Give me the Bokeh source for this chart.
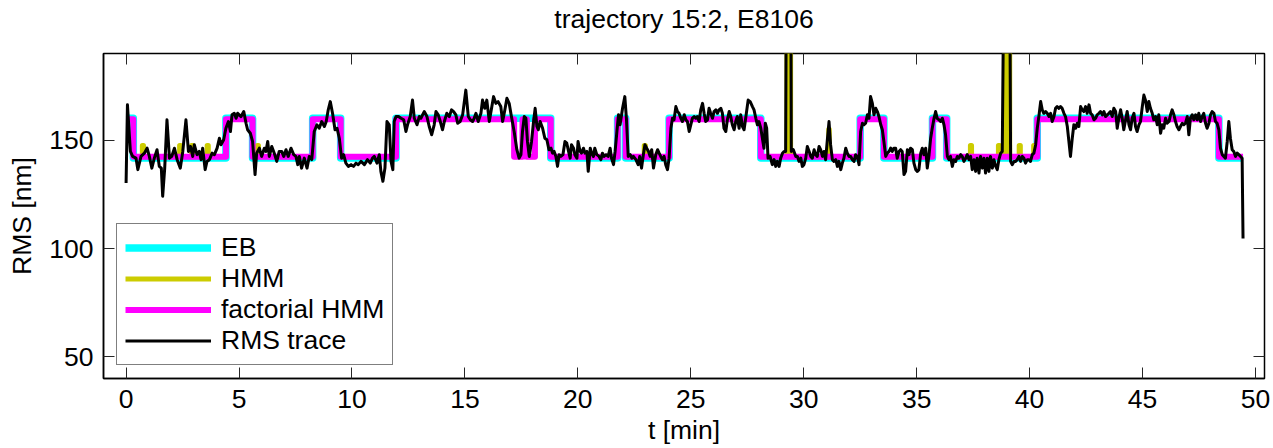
from bokeh.plotting import figure
from bokeh.models import LinearAxis, FixedTicker
from bokeh.embed import file_html
from bokeh.resources import INLINE

FONT = "Liberation Sans"
FS = "26.5px"

# ---------------- data ----------------
title_text = "trajectory 15:2, E8106"
x_label = "t [min]"
y_label = "RMS [nm]"
x_ticks = [0, 5, 10, 15, 20, 25, 30, 35, 40, 45, 50]
y_ticks = [50, 100, 150]

# RMS trace (t [min], RMS [nm])
trace_t = [0.00, 0.06, 0.19, 0.29, 0.44, 0.52, 0.66, 0.81, 0.93, 1.03, 1.14, 1.25, 1.37, 1.47, 1.56, 1.62, 1.71,
           1.81, 1.92, 2.02, 2.14, 2.26, 2.40, 2.51, 2.65, 2.76, 2.85, 2.95, 3.02, 3.14, 3.24, 3.32, 3.39, 3.50,
           3.58, 3.69, 3.81, 3.91, 4.03, 4.13, 4.20, 4.32, 4.42, 4.53, 4.62, 4.69, 4.79, 4.87, 4.94, 5.09, 5.21,
           5.31, 5.38, 5.50, 5.60, 5.71, 5.78, 5.90, 6.00, 6.12, 6.19, 6.27, 6.34, 6.45, 6.56, 6.67, 6.78, 6.89,
           6.98, 7.08, 7.18, 7.30, 7.42, 7.52, 7.60, 7.67, 7.77, 7.89, 8.01, 8.11, 8.22, 8.33, 8.45, 8.55, 8.66,
           8.78, 8.86, 8.95, 9.04, 9.14, 9.25, 9.34, 9.44, 9.54, 9.63, 9.73, 9.84, 9.96, 10.07, 10.18, 10.28,
           10.40, 10.55, 10.69, 10.81, 10.91, 10.99, 11.11, 11.21, 11.28, 11.37, 11.46, 11.55, 11.65, 11.73,
           11.81, 11.87, 11.95, 12.06, 12.17, 12.29, 12.39, 12.46, 12.58, 12.68, 12.76, 12.88, 12.98,
           13.05, 13.20, 13.32, 13.42, 13.53, 13.64, 13.72, 13.82, 13.91, 14.01, 14.09, 14.20, 14.31, 14.41,
           14.50, 14.60, 14.68, 14.79, 14.90, 15.04, 15.15, 15.24, 15.34, 15.41, 15.49, 15.59, 15.71, 15.78,
           15.88, 15.97, 16.08, 16.18, 16.27, 16.37, 16.47, 16.59, 16.67, 16.77, 16.86, 16.96, 17.06, 17.18,
           17.30, 17.40, 17.48, 17.55, 17.63, 17.70, 17.77, 17.85, 17.95, 18.04, 18.11, 18.19, 18.25, 18.33,
           18.44, 18.54, 18.63, 18.72, 18.81, 18.88, 18.95, 19.03, 19.10, 19.17, 19.25, 19.34, 19.43, 19.51,
           19.59, 19.66, 19.72, 19.81, 19.87, 19.96, 20.01, 20.10, 20.16, 20.25, 20.31, 20.40, 20.46, 20.55,
           20.61, 20.69, 20.75, 20.84, 20.94, 21.02, 21.09, 21.16, 21.25, 21.34, 21.43, 21.49, 21.58, 21.65,
           21.73, 21.80, 21.87, 21.98, 22.08, 22.15, 22.23, 22.32, 22.39, 22.46, 22.57, 22.67, 22.74, 22.82,
           22.91, 22.97, 23.05, 23.13, 23.20, 23.27, 23.35, 23.45, 23.53, 23.60, 23.67, 23.75, 23.82, 23.89,
           23.97, 24.04, 24.12, 24.19, 24.26, 24.34, 24.41, 24.48, 24.56, 24.63, 24.71, 24.78, 24.85, 24.93,
           25.00, 25.07, 25.15, 25.22, 25.29, 25.37, 25.44, 25.52, 25.59, 25.66, 25.74, 25.81, 25.88, 25.96,
           26.03, 26.11, 26.18, 26.25, 26.33, 26.40, 26.47, 26.55, 26.62, 26.70, 26.77, 26.84, 26.92, 26.99,
           27.06, 27.14, 27.21, 27.29, 27.36, 27.43, 27.54, 27.63, 27.73, 27.80, 27.88, 27.95, 28.02, 28.10,
           28.17, 28.24, 28.30, 28.36, 28.42, 28.51, 28.61, 28.69, 28.76, 28.83, 28.91, 28.98, 29.06, 29.13,
           29.20, 29.24, 29.42, 29.45, 29.54, 29.65, 29.72, 29.79, 29.87, 29.94, 30.01, 30.09, 30.16, 30.24,
           30.31, 30.38, 30.46, 30.53, 30.60, 30.68, 30.75, 30.83, 30.90, 30.97, 31.04, 31.12, 31.19, 31.27,
           31.34, 31.42, 31.49, 31.56, 31.64, 31.71, 31.78, 31.86, 31.93, 32.01, 32.08, 32.15, 32.23, 32.30,
           32.37, 32.45, 32.52, 32.60, 32.67, 32.74, 32.82, 32.89, 32.96, 33.04, 33.11, 33.19, 33.26, 33.33,
           33.41, 33.48, 33.55, 33.63, 33.70, 33.78, 33.85, 33.92, 33.99, 34.07, 34.14, 34.22, 34.29, 34.36,
           34.44, 34.51, 34.59, 34.66, 34.73, 34.81, 34.88, 34.96, 35.03, 35.10, 35.18, 35.25, 35.32, 35.40,
           35.47, 35.55, 35.62, 35.69, 35.77, 35.84, 35.91, 35.99, 36.06, 36.14, 36.21, 36.28, 36.36, 36.43,
           36.50, 36.58, 36.65, 36.73, 36.80, 36.87, 36.95, 37.02, 37.09, 37.17, 37.24, 37.32, 37.39, 37.46,
           37.54, 37.61, 37.68, 37.76, 37.83, 37.91, 37.98, 38.05, 38.13, 38.20, 38.27, 38.35, 38.42, 38.50,
           38.57, 38.64, 38.72, 38.79, 38.88, 39.11, 39.16, 39.23, 39.31, 39.38, 39.45, 39.53, 39.60, 39.68,
           39.75, 39.82, 39.90, 39.97, 40.04, 40.12, 40.19, 40.27, 40.34, 40.42, 40.49, 40.56, 40.63, 40.71,
           40.78, 40.86, 40.93, 41.00, 41.08, 41.15, 41.22, 41.30, 41.37, 41.44, 41.52, 41.59, 41.67, 41.74,
           41.81, 41.89, 41.96, 42.04, 42.11, 42.18, 42.26, 42.33, 42.40, 42.48, 42.55, 42.63, 42.70, 42.77,
           42.85, 42.92, 42.99, 43.07, 43.14, 43.22, 43.29, 43.36, 43.44, 43.51, 43.58, 43.66, 43.73, 43.81,
           43.88, 43.95, 44.03, 44.10, 44.17, 44.25, 44.32, 44.40, 44.47, 44.54, 44.62, 44.69, 44.76, 44.84,
           44.91, 44.99, 45.06, 45.13, 45.21, 45.28, 45.35, 45.43, 45.50, 45.58, 45.65, 45.72, 45.80, 45.87,
           45.94, 46.02, 46.09, 46.17, 46.24, 46.31, 46.39, 46.46, 46.53, 46.61, 46.68, 46.76, 46.83, 46.90,
           46.98, 47.05, 47.12, 47.20, 47.27, 47.35, 47.42, 47.49, 47.57, 47.64, 47.71, 47.79, 47.86, 47.94,
           48.01, 48.08, 48.16, 48.23, 48.30, 48.38, 48.45, 48.53, 48.60, 48.67, 48.75, 48.82, 48.89, 48.97,
           49.04, 49.12, 49.19, 49.26, 49.34, 49.41, 49.45]
trace_v = [130.2, 166.3, 144.8, 142.5, 141.7, 136.4, 142.5, 144.0, 146.3, 142.5, 137.1, 141.7, 145.6, 137.9, 137.1, 124.1, 137.1,
           159.4, 141.7, 142.5, 146.3, 141.0, 137.1, 144.8, 159.4, 144.8, 147.1, 142.5, 147.9, 143.3, 144.8, 141.0, 146.3, 136.4,
           140.2, 141.0, 144.0, 143.3, 146.3, 150.9, 147.9, 150.2, 155.5, 158.6, 154.0, 161.7, 162.4, 160.1, 162.4, 160.9, 163.2,
           157.8, 154.8, 153.2, 149.4, 134.1, 144.0, 146.3, 142.5, 146.3, 144.8, 149.4, 142.5, 147.1, 144.0, 140.2, 144.8, 144.8,
           142.5, 145.6, 142.5, 146.3, 143.3, 142.5, 138.7, 142.5, 137.1, 141.7, 137.1, 142.5, 141.0, 154.0, 157.1, 155.5, 158.6,
           156.3, 158.6, 164.0, 167.8, 162.4, 154.8, 155.5, 150.9, 141.7, 143.3, 139.4, 137.9, 138.7, 137.9, 139.4, 138.7,
           140.2, 138.7, 141.0, 139.4, 141.7, 142.5, 139.4, 143.3, 135.6, 131.0, 137.1, 158.6, 157.1, 140.2,
           136.4, 158.6, 160.9, 160.9, 160.1, 159.4, 154.0, 157.1, 160.9, 168.5, 160.1, 157.1, 160.9,
           160.1, 163.2, 160.9, 156.3, 152.5, 157.1, 163.2, 161.7, 158.6, 154.8, 158.6, 162.4, 160.9, 164.0,
           163.2, 161.7, 157.8, 158.6, 161.7, 173.1, 160.9, 159.4, 158.6, 160.1, 162.4, 158.6, 162.4, 168.5,
           164.7, 168.5, 158.6, 164.7, 170.1, 167.0, 167.8, 165.5, 158.6, 164.0, 169.3, 167.0, 160.9, 154.0,
           145.6, 141.7, 143.3, 154.0, 160.9, 160.1, 149.4, 142.5, 149.4, 158.6, 164.7, 156.3, 154.8, 158.6,
           155.5, 150.9, 150.2, 145.6, 146.3, 144.0, 144.8, 142.5, 137.9, 143.3, 142.5, 143.3, 149.4, 148.6,
           144.8, 141.7, 147.9, 146.3, 143.3, 141.7, 149.4, 144.8, 144.0, 146.3, 144.0, 144.8, 135.6, 146.3,
           144.0, 142.5, 146.3, 143.3, 142.5, 141.0, 144.0, 142.5, 143.3, 142.5, 146.3, 141.7, 138.7, 144.8,
           154.0, 161.7, 157.1, 164.7, 170.1, 160.1, 142.5, 143.3, 141.7, 142.5, 141.0, 138.7, 142.5, 137.1,
           144.0, 147.9, 146.3, 144.8, 142.5, 145.6, 137.1, 143.3, 145.6, 144.0, 142.5, 141.0, 142.5, 138.7,
           136.4, 141.7, 155.5, 160.1, 159.4, 165.5, 163.2, 162.4, 160.1, 158.6, 161.7, 159.4, 158.6, 154.0,
           157.1, 160.1, 160.9, 160.1, 160.9, 158.6, 164.0, 167.0, 162.4, 158.6, 159.4, 164.7, 162.4, 160.1,
           163.2, 164.0, 162.4, 164.0, 164.7, 162.4, 155.5, 154.0, 159.4, 163.2, 160.9, 157.1, 154.8, 158.6,
           160.9, 155.5, 161.7, 156.3, 154.8, 160.1, 168.5, 167.8, 165.5, 164.0, 160.1, 157.1, 158.6, 155.5,
           150.9, 146.3, 157.8, 155.5, 141.7, 142.5, 138.7, 141.0, 137.9, 140.2, 137.9, 141.7, 144.0, 144.8,
           144.8, 250.0, 250.0, 144.8, 145.6, 142.5, 142.5, 140.2, 141.7, 137.9, 138.7, 141.7, 147.1, 144.8,
           142.5, 141.7, 145.6, 143.3, 142.5, 147.1, 145.6, 142.5, 144.8, 141.0, 149.4, 158.6, 147.9, 141.0,
           140.2, 141.0, 137.9, 140.2, 136.4, 139.4, 141.7, 146.3, 144.0, 142.5, 142.5, 141.0, 140.2, 143.3,
           142.5, 138.7, 154.0, 157.8, 157.1, 157.8, 161.7, 160.1, 170.1, 167.0, 161.7, 164.7, 163.2, 160.9,
           157.1, 154.8, 149.4, 142.5, 144.0, 144.8, 146.3, 144.8, 146.3, 146.3, 141.7, 144.8, 145.6, 144.8,
           134.1, 135.6, 145.6, 143.3, 146.3, 145.6, 139.4, 136.4, 135.6, 136.4, 144.0, 146.3, 143.3, 146.3,
           137.1, 143.3, 150.9, 155.5, 160.1, 163.2, 160.1, 159.4, 158.6, 160.1, 157.1, 152.5, 142.5, 141.0,
           142.5, 137.9, 141.0, 140.2, 142.5, 141.7, 143.3, 142.5, 140.2, 141.7, 143.3, 141.0, 142.5, 136.4,
           141.0, 135.6, 141.7, 134.8, 142.5, 137.1, 141.7, 134.8, 141.7, 135.6, 142.5, 137.1, 141.0, 137.9,
           136.4, 141.0, 144.0, 144.8, 250.0, 250.0, 140.2, 138.7, 140.2, 140.2, 141.0, 142.5, 140.2, 142.5,
           141.7, 139.4, 141.0, 141.0, 140.2, 143.3, 144.0, 147.9, 155.5, 161.7, 167.8, 164.0, 162.4, 163.2,
           162.4, 160.9, 162.4, 158.6, 160.9, 164.7, 165.5, 164.7, 165.5, 164.7, 162.4, 160.9, 156.3, 149.4,
           142.5, 150.9, 157.1, 155.5, 157.8, 156.3, 165.5, 164.0, 163.2, 165.5, 162.4, 166.3, 162.4, 161.7,
           159.4, 160.1, 161.7, 162.4, 163.2, 161.7, 163.2, 160.9, 161.7, 162.4, 163.2, 160.9, 164.7, 163.2,
           155.5, 160.1, 164.0, 160.1, 154.8, 159.4, 163.2, 157.1, 154.8, 160.1, 162.4, 156.3, 154.0, 157.1,
           158.6, 165.5, 170.8, 168.5, 163.2, 167.8, 164.7, 162.4, 159.4, 160.9, 157.1, 161.7, 153.2, 157.1,
           155.5, 160.1, 157.8, 158.6, 161.7, 164.0, 161.7, 158.6, 156.3, 154.8, 156.3, 157.8, 157.1, 157.8,
           160.9, 152.5, 160.1, 161.7, 159.4, 161.7, 159.4, 162.4, 158.6, 160.9, 162.4, 157.8, 155.5, 157.8,
           161.7, 163.2, 162.4, 158.6, 157.8, 154.8, 146.3, 143.3, 142.5, 141.7, 149.4, 158.6, 150.9, 145.6,
           144.8, 142.5, 144.0, 143.3, 142.5, 141.7, 104.6]

# state sequences: start time of each segment and its level [nm]
eb_t = [0.0, 0.32, 4.42, 5.60, 8.26, 9.50, 11.95, 18.80, 21.76, 22.12, 24.04, 28.10, 32.50, 33.55, 35.70, 36.33, 40.34, 48.38]
eb_v = [160.1, 141.8, 160.1, 141.8, 160.1, 141.8, 160.1, 141.8, 160.1, 141.8, 160.1, 141.8, 160.1, 141.8, 160.1, 141.8, 160.1, 141.8]

fhmm_t = [0.0, 0.32, 4.42, 5.60, 8.26, 9.50, 11.95, 17.18, 17.55, 17.74, 18.10, 18.80, 21.76, 22.12, 24.04, 28.10,
          32.50, 33.55, 35.70, 36.33, 40.34, 48.38]
fhmm_v = [159.6, 142.3, 159.6, 142.3, 159.6, 142.3, 159.6, 142.3, 159.6, 142.3, 159.6, 142.3, 159.6, 142.3, 159.6, 142.3,
          159.6, 142.3, 159.6, 142.3, 159.6, 142.3]

hmm_t = [0.0, 0.32, 0.72, 0.77, 2.37, 2.42, 2.90, 2.95, 3.59, 3.64, 4.42, 5.60, 5.81, 5.86, 8.26, 9.50, 11.95,
         17.18, 17.55, 17.74, 18.10, 18.80, 21.76, 22.12, 22.94, 22.99, 24.04, 28.10, 29.26, 29.42, 31.11, 31.13,
         32.50, 33.55, 35.70, 36.33, 37.38, 37.43, 38.62, 38.67, 38.90, 39.12, 39.54, 39.59, 40.18, 40.22, 40.34, 48.38]
hmm_v = [159.6, 142.3, 147.5, 142.3, 147.5, 142.3, 147.5, 142.3, 147.5, 142.3, 159.6, 142.3, 147.5, 142.3, 159.6, 142.3, 159.6,
         142.3, 159.6, 142.3, 159.6, 142.3, 159.6, 142.3, 147.5, 142.3, 159.6, 142.3, 260.0, 142.3, 155.0, 142.3,
         159.6, 142.3, 159.6, 142.3, 147.5, 142.3, 147.5, 142.3, 260.0, 142.3, 147.5, 142.3, 147.5, 142.3, 159.6, 142.3]

t_end = trace_t[-1]


def steps(times, levels, end):
    xs, ys = [], []
    for i, lv in enumerate(levels):
        t1 = times[i + 1] if i + 1 < len(times) else end
        xs += [times[i], t1]
        ys += [lv, lv]
    return xs, ys


# ---------------- figure ----------------
p = figure(width=1273, height=448, x_range=(-1, 50.4), y_range=(40, 190), title=None,
           output_backend="svg", toolbar_location=None,
           min_border_left=103, min_border_right=9, min_border_top=52, min_border_bottom=70)

ex, ey = steps(eb_t, eb_v, t_end)
hx, hy = steps(hmm_t, hmm_v, t_end)
fx, fy = steps(fhmm_t, fhmm_v, t_end)

p.line(ex, ey, color="#00ffff", line_width=7.5, line_join="round", legend_label="EB")
p.line(hx, hy, color="#cccc00", line_width=5, line_join="round", legend_label="HMM")
p.line(fx, fy, color="#ff00ff", line_width=6, line_join="round", legend_label="factorial HMM")
p.line(trace_t, trace_v, color="black", line_width=3, line_join="round", legend_label="RMS trace")

p.xgrid.visible = False
p.ygrid.visible = False
p.outline_line_color = "black"
p.outline_line_width = 1.5
p.background_fill_color = "white"
p.border_fill_color = "white"

for ax in (p.xaxis[0], p.yaxis[0]):
    ax.major_tick_in = 11
    ax.major_tick_out = 0
    ax.minor_tick_line_color = None
    ax.major_tick_line_color = "#262626"
    ax.axis_line_color = "black"
    ax.axis_line_width = 1.5
    ax.major_label_text_font = FONT
    ax.major_label_text_font_size = FS
    ax.major_label_text_color = "black"
    ax.axis_label_text_font = FONT
    ax.axis_label_text_font_size = FS
    ax.axis_label_text_font_style = "normal"
    ax.axis_label_text_color = "black"

p.xaxis[0].ticker = FixedTicker(ticks=x_ticks)
p.yaxis[0].ticker = FixedTicker(ticks=y_ticks)
p.xaxis[0].axis_label = x_label
p.yaxis[0].axis_label = y_label
p.xaxis[0].major_label_standoff = 11
p.xaxis[0].axis_label_standoff = 4
p.yaxis[0].major_label_standoff = 10
p.yaxis[0].axis_label_standoff = 9

# mirrored ticks on top (carrying the chart title as its label) and on the right
top = LinearAxis(ticker=FixedTicker(ticks=x_ticks), major_label_text_font_size="1px",
                 major_label_text_color=None,
                 major_tick_in=11, major_tick_out=0, minor_tick_line_color=None,
                 major_tick_line_color="#262626", axis_line_color=None, major_label_standoff=0,
                 axis_label=title_text, axis_label_standoff=20, axis_label_text_font=FONT,
                 axis_label_text_font_size=FS, axis_label_text_font_style="normal",
                 axis_label_text_color="black")
right = LinearAxis(ticker=FixedTicker(ticks=y_ticks), major_label_text_font_size="1px",
                   major_label_text_color=None,
                   major_tick_in=11, major_tick_out=0, minor_tick_line_color=None,
                   major_tick_line_color="#262626", axis_line_color=None, major_label_standoff=0)
p.add_layout(top, "above")
p.add_layout(right, "right")

lg = p.legend[0]
lg.location = (13, 13)
lg.border_line_color = "black"
lg.border_line_width = 1.5
lg.background_fill_alpha = 1
lg.label_text_font = FONT
lg.label_text_font_size = FS
lg.label_text_color = "black"
lg.glyph_width = 86
lg.glyph_height = 31
lg.label_height = 31
lg.spacing = 0
lg.padding = 8
lg.margin = 0
lg.label_standoff = 10

open("out.html", "w").write(file_html(p, INLINE))
